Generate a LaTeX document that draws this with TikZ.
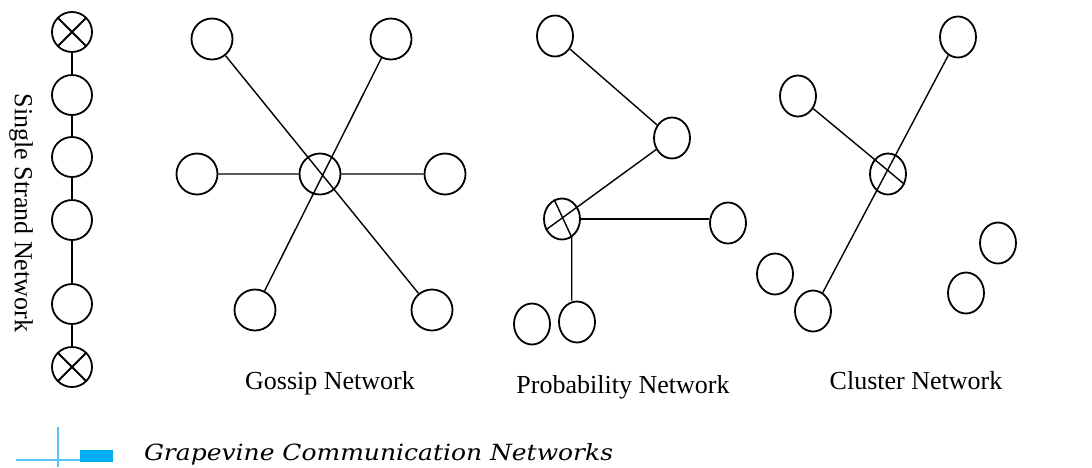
\documentclass[tikz,border=0pt]{standalone}
\usepackage{fontspec}
\setmainfont{Liberation Serif}
\newfontfamily\capfont[FakeStretch=1.12]{DejaVu Serif}
\usepackage{tikz}
\usetikzlibrary{shapes.geometric}

\definecolor{markblue}{RGB}{0,176,240}
\definecolor{lineblue}{RGB}{90,195,240}

\begin{document}
\begin{tikzpicture}[
        x=1pt, y=-1pt,
        line width=1.4pt,
        member/.style={circle, draw, line width=1.8pt, minimum size=40pt, inner sep=0pt},
        slim/.style={ellipse, draw, line width=1.8pt, minimum width=36pt, minimum height=41pt, inner sep=0pt},
        crossed/.style={path picture={
            \draw[line width=1.8pt] (path picture bounding box.north west) -- (path picture bounding box.south east)
                (path picture bounding box.north east) -- (path picture bounding box.south west);}},
        netlabel/.style={anchor=base, font=\fontsize{26}{30}\selectfont}
        ]
        \useasboundingbox (0,0) rectangle (1092,467);
        % single strand
        \node[member, crossed] (s1) at (72,32) {};
        \node[member] (s2) at (72,95) {};
        \node[member] (s3) at (72,157) {};
        \node[member] (s4) at (72,220) {};
        \node[member] (s5) at (72,304) {};
        \node[member, crossed] (s6) at (72,367) {};
        \draw (s1) -- (s2) -- (s3) -- (s4) -- (s5) -- (s6);
        \node[rotate=-90, font=\fontsize{26}{30}\selectfont] (sl) at (21,213) {Single Strand Network};
        % gossip
        \node[member, minimum size=41pt] (gc) at (320,174) {};
        \node[member, minimum size=41pt] (gtl) at (212,39) {};
        \node[member, minimum size=41pt] (gtr) at (391,39) {};
        \node[member, minimum size=41pt] (gl) at (197,174) {};
        \node[member, minimum size=41pt] (gr) at (445,174) {};
        \node[member, minimum size=41pt] (gbl) at (255,310) {};
        \node[member, minimum size=41pt] (gbr) at (432,310) {};
        \draw (gtl) -- (gbr)
              (gtr) -- (gbl)
              (gl) -- (gc)
              (gc) -- (gr);
        \node[netlabel] (gn) at (330,389) {Gossip Network};
        % probability
        \node[slim] (px) at (562,219) {};
        \node[slim] (ptl) at (555,36) {};
        \node[slim] (pm) at (672,138) {};
        \node[slim] (pr) at (728,223) {};
        \node[slim] (pbl) at (532,324) {};
        \node[slim] (pb) at (577,322) {};
        \draw (ptl) -- (pm);
        \draw (pm) -- (px.214);
        \draw (px) -- (px -| pr.west);
        \draw (px.112) -- (px.-62) -- (px.-62 |- pb.north);
        \node[netlabel] (pn) at (623,393) {Probability Network};
        % cluster
        \node[slim] (cx) at (888,174) {};
        \node[slim] (ctl) at (798,96) {};
        \node[slim] (ctr) at (958,37) {};
        \node[slim] (cb) at (813,311) {};
        \node[slim] (cl) at (775,274) {};
        \node[slim] (cru) at (998,243) {};
        \node[slim] (crl) at (966,293) {};
        \draw (ctl) -- (cx.-32);
        \draw (ctr) -- (cb);
        \node[netlabel] (cn) at (916,389) {Cluster Network};
        % caption
        \coordinate (mt) at (58,427);
        \coordinate (mb) at (58,467);
        \coordinate (ml) at (16,460);
        \coordinate (mr) at (80,460);
        \draw[lineblue, line width=1.6pt] (mt) -- (mb) (ml) -- (mr);
        \fill[markblue] (80,450) rectangle (113,462);
        \node[anchor=base west, font=\capfont\itshape\fontsize{22.3}{26}\selectfont] (cap) at (140,460) {Grapevine Communication Networks};
\end{tikzpicture}
\end{document}
